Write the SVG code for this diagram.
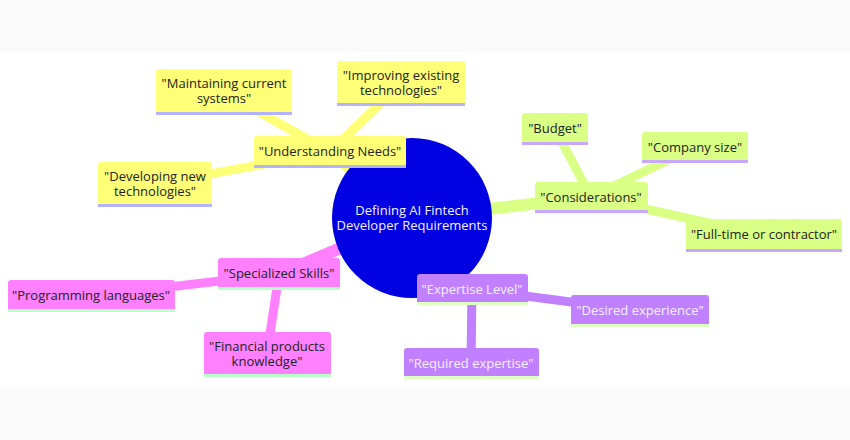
<svg xmlns="http://www.w3.org/2000/svg" width="850" height="440" viewBox="0 0 850 440">
<style>
text{font-family:"Open Sans","DejaVu Sans",sans-serif;font-size:13px;text-anchor:middle;fill:#222}
.l1{stroke-width:12;stroke-linecap:butt;fill:none}
.l2{stroke-width:9;stroke-linecap:butt;fill:none}
.y{stroke:#ffff78}.yf{fill:#ffff78}
.g{stroke:#d9ff85}.gf{fill:#d9ff85}
.p{stroke:#ff80ff}.pf{fill:#ff80ff}
.v{stroke:#c080ff}.vf{fill:#c080ff}
.ly{fill:#b3b3ff}.lg{fill:#c9a6ff}.lp{fill:#b8ffc8}.lv{fill:#ddffc0}
.w{fill:#f4f0ff}
</style>
<rect x="0" y="0" width="850" height="440" fill="#fafafa"/>
<rect x="0" y="52" width="850" height="335" fill="#ffffff"/>
<g id="connectors">
<line class="l1 y" x1="412" y1="218" x2="330" y2="152"/>
<line class="l2 y" x1="330" y1="152" x2="224" y2="92"/>
<line class="l2 y" x1="330" y1="152" x2="400" y2="84"/>
<line class="l2 y" x1="330" y1="152" x2="155" y2="184"/>
<line class="l1 g" x1="412" y1="218" x2="591" y2="197"/>
<line class="l2 g" x1="591" y1="197" x2="555" y2="129"/>
<line class="l2 g" x1="591" y1="197" x2="695" y2="147"/>
<line class="l2 g" x1="591" y1="197" x2="764" y2="235"/>
<line class="l1 p" x1="412" y1="218" x2="279" y2="274"/>
<line class="l2 p" x1="279" y1="274" x2="92" y2="296"/>
<line class="l2 p" x1="279" y1="274" x2="267" y2="354"/>
<line class="l1 v" x1="412" y1="218" x2="472" y2="289"/>
<line class="l2 v" x1="472" y1="289" x2="640" y2="311"/>
<line class="l2 v" x1="472" y1="289" x2="471" y2="363"/>
</g>
<g id="root">
<circle cx="412" cy="218" r="80" fill="#0000e0"/>
<text class="w" x="412" y="215">Defining AI Fintech</text>
<text class="w" x="412" y="230">Developer Requirements</text>
</g>
<g id="understanding">
<rect class="yf" x="254" y="136" width="152" height="32" rx="3"/>
<rect class="ly" x="254" y="165" width="152" height="3"/>
<text x="330" y="156">"Understanding Needs"</text>
</g>
<g id="maintaining">
<rect class="yf" x="156" y="69" width="136" height="46" rx="3"/>
<rect class="ly" x="156" y="112" width="136" height="3"/>
<text x="224" y="88">"Maintaining current</text>
<text x="224" y="103">systems"</text>
</g>
<g id="improving">
<rect class="yf" x="337" y="61" width="128" height="45" rx="3"/>
<rect class="ly" x="337" y="103" width="128" height="3"/>
<text x="401" y="80">"Improving existing</text>
<text x="401" y="95">technologies"</text>
</g>
<g id="developing">
<rect class="yf" x="98" y="162" width="114" height="45" rx="3"/>
<rect class="ly" x="98" y="204" width="114" height="3"/>
<text x="155" y="181">"Developing new</text>
<text x="155" y="196">technologies"</text>
</g>
<g id="considerations">
<rect class="gf" x="535" y="182" width="113" height="31" rx="3"/>
<rect class="lg" x="535" y="210" width="113" height="3"/>
<text x="591" y="202">"Considerations"</text>
</g>
<g id="budget">
<rect class="gf" x="522" y="113" width="66" height="32" rx="3"/>
<rect class="lg" x="522" y="142" width="66" height="3"/>
<text x="555" y="133">"Budget"</text>
</g>
<g id="company">
<rect class="gf" x="642" y="132" width="106" height="31" rx="3"/>
<rect class="lg" x="642" y="160" width="106" height="3"/>
<text x="695" y="152">"Company size"</text>
</g>
<g id="fulltime">
<rect class="gf" x="686" y="219" width="156" height="33" rx="3"/>
<rect class="lg" x="686" y="249" width="156" height="3"/>
<text x="764" y="239">"Full-time or contractor"</text>
</g>
<g id="specialized">
<rect class="pf" x="218" y="258" width="122" height="32" rx="3"/>
<rect class="lp" x="218" y="287" width="122" height="3"/>
<text x="279" y="278">"Specialized Skills"</text>
</g>
<g id="programming">
<rect class="pf" x="8" y="280" width="167" height="32" rx="3"/>
<rect class="lp" x="8" y="309" width="167" height="3"/>
<text x="91" y="300">"Programming languages"</text>
</g>
<g id="financial">
<rect class="pf" x="204" y="332" width="127" height="45" rx="3"/>
<rect class="lp" x="204" y="374" width="127" height="3"/>
<text x="267" y="351">"Financial products</text>
<text x="267" y="366">knowledge"</text>
</g>
<g id="expertise">
<rect class="vf" x="417" y="274" width="111" height="31" rx="3"/>
<rect class="lv" x="417" y="302" width="111" height="3"/>
<text class="w" x="472" y="294">"Expertise Level"</text>
</g>
<g id="desired">
<rect class="vf" x="571" y="295" width="138" height="32" rx="3"/>
<rect class="lv" x="571" y="324" width="138" height="3"/>
<text class="w" x="640" y="315">"Desired experience"</text>
</g>
<g id="required">
<rect class="vf" x="404" y="348" width="135" height="31" rx="3"/>
<rect class="lv" x="404" y="376" width="135" height="3"/>
<text class="w" x="471" y="368">"Required expertise"</text>
</g>
</svg>
